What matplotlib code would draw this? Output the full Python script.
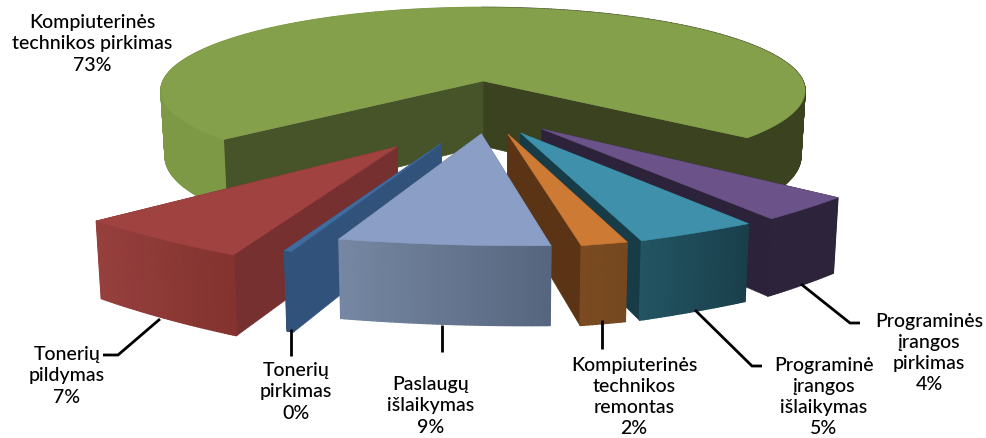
import matplotlib
matplotlib.use('Agg')
import matplotlib.pyplot as plt
from matplotlib.colors import to_rgb
import numpy as np

# shares in %, front slices go left to right after the big green one
names = ['Kompiuterinės\ntechnikos pirkimas', 'Tonerių\npildymas', 'Tonerių\npirkimas',
         'Paslaugų\nišlaikymas', 'Kompiuterinės\ntechnikos\nremontas',
         'Programinė\nįrangos\nišlaikymas', 'Programinės\nįrangos\npirkimas']
values = [72.6, 7.4, 0.3, 8.6, 1.9, 5.0, 4.2]

# layout, pixels of the reference
cx, cy = 483, 82
a, b = 320, 82
persp = 0.114
depth = 65
start = 50.0
flat = 0.45  # the exploded slices have flatter outer edges than a true arc
offsets = [(0, 0), (-.246, .735), (-.12, .70), (-.005, .60), (.072, .60), (.109, .59), (.173, .549)]

# top, wall left, wall right, cut facing right, cut facing left
colors = [('#84A04B', '#7D9946', '#3A421F', '#3A421F', '#47542A'),
          ('#9F4240', '#96403E', '#84332F', '#773030', '#773030'),
          ('#3F6B9F', '#31527A', '#31527A', '#31527A', '#31527A'),
          ('#8B9FC6', '#7687A3', '#57667F', '#57667F', '#57667F'),
          ('#CC7A34', '#7A4B20', '#764820', '#5A3415', '#5A3415'),
          ('#3F91AB', '#235462', '#1A3F4C', '#173C48', '#173C48'),
          ('#6B5389', '#2D233B', '#2D233B', '#2C2239', '#2C2239')]
draw_order = [0, 6, 5, 4, 1, 2, 3]

label_pos = [(92, 44), (67, 376), (296, 392), (431, 406), (634, 397), (824, 397), (929, 353)]
leaders = [None,
           [(160, 320), (118, 356), (103, 356)],
           [(291, 330), (291, 357)],
           [(442, 326), (442, 353)],
           [(602, 321), (602, 350)],
           [(695, 311), (752, 367), (762, 367)],
           [(801, 285), (850, 324), (860, 324)]]


def project(X, Y, bottom=False):
    w = 1 - persp * Y
    if bottom:
        return cx + a * X * 0.987 / w, cy + (b * Y + depth) / w
    return cx + a * X / w, cy + b * Y / w


def mix(c1, c2, t):
    return tuple((1 - t) * np.array(to_rgb(c1)) + t * np.array(to_rgb(c2)))


def draw_slice(ax, i, t0, t1):
    top, wall0, wall1, cut_r, cut_l = colors[i]
    ox, oy = offsets[i]
    ang = np.radians(np.linspace(t0, t1, max(int(abs(t1 - t0) * 1.5), 12)))
    if i == 0:
        X = ox + np.sin(ang)
        Y = oy + np.cos(ang)
    else:
        X = 1.02 * np.sin(ang)
        Y = 1.05 * np.cos(ang)
        # pull the arc towards its chord
        u = np.linspace(0, 1, len(ang))
        X = ox + X[0] + u * (X[-1] - X[0]) + flat * (X - X[0] - u * (X[-1] - X[0]))
        Y = oy + Y[0] + u * (Y[-1] - Y[0]) + flat * (Y - Y[0] - u * (Y[-1] - Y[0]))

    # cut faces from the apex to both corners
    for ex, ey, col in [(X[0], Y[0], cut_r), (X[-1], Y[-1], cut_l)]:
        p = [project(ox, oy), project(ex, ey), project(ex, ey, True), project(ox, oy, True)]
        ax.fill(*zip(*p), color=col, lw=0.5)

    # outer wall as thin strips so it can be shaded
    for k in range(len(X) - 1):
        p = [project(X[k], Y[k]), project(X[k + 1], Y[k + 1]),
             project(X[k + 1], Y[k + 1], True), project(X[k], Y[k], True)]
        if i == 0:
            # green is lit on the left and dark on the right
            col = wall1 if np.sin(ang[k]) > 0 else wall0
        else:
            col = mix(wall0, wall1, k / (len(X) - 2))
        ax.fill(*zip(*p), color=col, lw=1)

    pts = [project(ox, oy)] + [project(x, y) for x, y in zip(X, Y)]
    ax.fill(*zip(*pts), color=top, lw=0.4)


plt.rcParams['font.family'] = ['Lato', 'DejaVu Sans']
fig = plt.figure(figsize=(9.86, 4.39), dpi=100)
ax = fig.add_axes([0, 0, 1, 1])
ax.set_xlim(0, 986)
ax.set_ylim(439, 0)
ax.axis('off')

edges = start + np.cumsum([0] + [v * 3.6 for v in values])
for i in draw_order:
    draw_slice(ax, i, edges[i], edges[i + 1])

for line in leaders:
    if line:
        ax.plot(*zip(*line), color='black', lw=2, solid_capstyle='butt', solid_joinstyle='miter')

for name, val, (x, y) in zip(names, values, label_pos):
    ax.text(x, y, f'{name}\n{round(val)}%', ha='center', va='center', fontsize=14,
            fontweight='medium', linespacing=1.3, color='black')

fig.savefig('out.png', dpi=100)
